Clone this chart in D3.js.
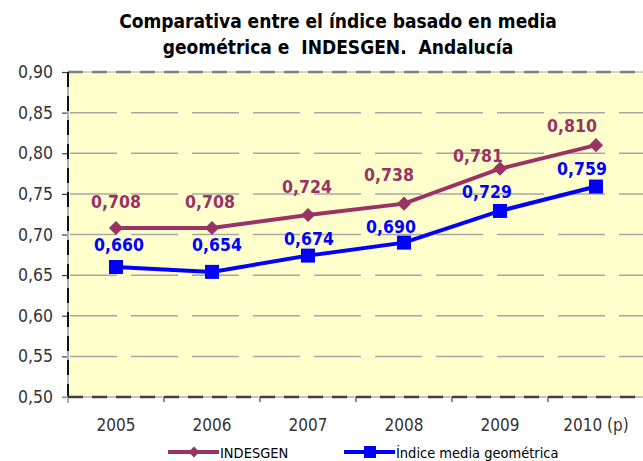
<!DOCTYPE html>
<html>
<head>
<meta charset="utf-8">
<script src="https://cdn.jsdelivr.net/npm/d3@7"></script>
<style>
  body { margin: 0; background: #fff; }
  svg { display: block; font-family: "DejaVu Sans Condensed", "DejaVu Sans", sans-serif; }
</style>
</head>
<body>
<div id="chart"></div>
<script>
const years = ["2005", "2006", "2007", "2008", "2009", "2010 (p)"];
const indesgen = [0.708, 0.708, 0.724, 0.738, 0.781, 0.810];
const mediaGeometrica = [0.660, 0.654, 0.674, 0.690, 0.729, 0.759];
const yTicks = [0.50, 0.55, 0.60, 0.65, 0.70, 0.75, 0.80, 0.85, 0.90];
const titleLines = ["Comparativa entre el índice basado en media", "geométrica e  INDESGEN.  Andalucía"];
const seriesNames = ["INDESGEN", "Índice media geométrica"];

// hand-placed data label offsets (as in the source chart)
const labelShiftIndesgen = [[0, -20], [-2, -20], [-1, -22], [-15, -23], [-22, -7], [-24, -13]];
const labelShiftMedia = [[3, -16], [5, -21], [1, -11], [-13, -10], [-13, -13], [-14, -12]];

const W = 643, H = 461;
const margin = { top: 72, right: -1, bottom: 64, left: 68 };
const width = W - margin.left - margin.right;
const height = H - margin.top - margin.bottom;

const svg = d3.select("#chart").append("svg")
    .attr("width", W)
    .attr("height", H);

// title
svg.append("g").selectAll("text")
    .data(titleLines)
    .enter().append("text")
    .attr("x", 338)
    .attr("y", (d, i) => 28 + i * 26)
    .attr("text-anchor", "middle")
    .attr("font-size", "19px")
    .attr("font-weight", "bold")
    .style("white-space", "pre")
    .text(d => d);

const g = svg.append("g").attr("transform", `translate(${margin.left},${margin.top})`);

const x = d3.scaleBand().domain(years).range([0, width]);
const y = d3.scaleLinear().domain([0.5, 0.9]).range([height, 0]);
const fmt = v => d3.format(".3f")(v).replace(".", ",");

// plot background
g.append("rect")
    .attr("width", width)
    .attr("height", height)
    .attr("fill", "#ffffcc");

// grid
g.selectAll(".grid")
    .data(yTicks.slice(1, -1))
    .enter().append("line")
    .attr("x1", 2).attr("x2", width)
    .attr("y1", d => y(d)).attr("y2", d => y(d))
    .attr("stroke", "#a6a6a6")
    .attr("stroke-width", 1.5)
    .attr("stroke-dasharray", "47,14");

// top border
g.append("line").attr("x1", 0).attr("x2", width).attr("y1", 0).attr("y2", 0)
    .attr("stroke", "#c8c8b0").attr("stroke-width", 1.5);
g.append("line").attr("x1", 0).attr("x2", width).attr("y1", 0).attr("y2", 0)
    .attr("stroke", "#808080").attr("stroke-width", 2.5).attr("stroke-dasharray", "15,9");

// y axis
const yAxis = g.append("g")
    .call(d3.axisLeft(y).tickValues(yTicks).tickSize(6).tickFormat(d => d3.format(".2f")(d).replace(".", ",")));
yAxis.select(".domain").remove();
yAxis.selectAll(".tick line").attr("stroke", "#404040").attr("stroke-width", 1.2);
yAxis.selectAll("text").attr("font-size", "17.5px").attr("fill", "#333").attr("x", -15)
    .attr("font-family", "DejaVu Sans Condensed, DejaVu Sans");
g.append("line").attr("x1", 0).attr("x2", 0).attr("y1", 0).attr("y2", height + 6)
    .attr("stroke", "#b0b0b0").attr("stroke-width", 2);
g.append("line").attr("x1", 0).attr("x2", 0).attr("y1", 0).attr("y2", height)
    .attr("stroke", "#111").attr("stroke-width", 2).attr("stroke-dasharray", "15,9");

// x axis
const xAxis = g.append("g")
    .attr("transform", `translate(0,${height})`)
    .call(d3.axisBottom(x).tickSize(0).tickPadding(22));
xAxis.select(".domain").remove();
xAxis.selectAll("text").attr("font-size", "17px").attr("fill", "#333")
    .attr("font-family", "DejaVu Sans Condensed, DejaVu Sans");
g.append("g").selectAll("line")
    .data(years.slice(1))
    .enter().append("line")
    .attr("x1", d => x(d)).attr("x2", d => x(d))
    .attr("y1", height).attr("y2", height + 5)
    .attr("stroke", "#404040").attr("stroke-width", 1.2);
g.append("line").attr("x1", -6).attr("x2", width).attr("y1", height).attr("y2", height)
    .attr("stroke", "#b0b0b0").attr("stroke-width", 1.5);
g.append("line").attr("x1", 0).attr("x2", width).attr("y1", height).attr("y2", height)
    .attr("stroke", "#404040").attr("stroke-width", 2.5).attr("stroke-dasharray", "15,9");

const cx = d => x(d) + x.bandwidth() / 2;

const series = [
    { name: seriesNames[0], values: indesgen, color: "#993366", marker: "diamond", shift: labelShiftIndesgen },
    { name: seriesNames[1], values: mediaGeometrica, color: "#0000ff", marker: "square", shift: labelShiftMedia }
];

const line = d3.line().x(d => cx(d.year)).y(d => y(d.v));

series.forEach(s => {
    const pts = years.map((yr, i) => ({ year: yr, v: s.values[i], i: i }));
    g.append("path")
        .datum(pts)
        .attr("d", line)
        .attr("fill", "none")
        .attr("stroke", s.color)
        .attr("stroke-width", 4);
    if (s.marker === "diamond") {
        g.selectAll(null).data(pts).enter().append("path")
            .attr("d", d3.symbol().type(d3.symbolSquare).size(100))
            .attr("transform", d => `translate(${cx(d.year)},${y(d.v)}) rotate(45)`)
            .attr("fill", s.color);
    } else {
        g.selectAll(null).data(pts).enter().append("rect")
            .attr("x", d => cx(d.year) - 7)
            .attr("y", d => y(d.v) - 7)
            .attr("width", 14).attr("height", 14)
            .attr("fill", s.color);
    }
    g.selectAll(null).data(pts).enter().append("text")
        .attr("x", d => cx(d.year) + s.shift[d.i][0])
        .attr("y", d => y(d.v) + s.shift[d.i][1])
        .attr("text-anchor", "middle")
        .attr("font-size", "17.5px")
        .attr("font-weight", "bold")
        .attr("fill", s.color)
        .text(d => fmt(d.v));
});

// legend
const legendX = [168, 344];
const leg = svg.append("g").selectAll("g")
    .data(series)
    .enter().append("g")
    .attr("transform", (d, i) => `translate(${legendX[i]},452)`);
leg.append("line").attr("x1", 0).attr("x2", 51).attr("y1", 0).attr("y2", 0)
    .attr("stroke", d => d.color).attr("stroke-width", 4);
leg.filter(d => d.marker === "diamond").append("path")
    .attr("d", d3.symbol().type(d3.symbolSquare).size(60))
    .attr("transform", "translate(26,0) rotate(45)")
    .attr("fill", d => d.color);
leg.filter(d => d.marker === "square").append("rect")
    .attr("x", 20).attr("y", -6).attr("width", 12).attr("height", 12)
    .attr("fill", d => d.color);
leg.append("text")
    .attr("x", 52).attr("y", 6)
    .attr("font-size", "14.5px")
    .attr("fill", "#000")
    .text(d => d.name);
</script>
</body>
</html>
